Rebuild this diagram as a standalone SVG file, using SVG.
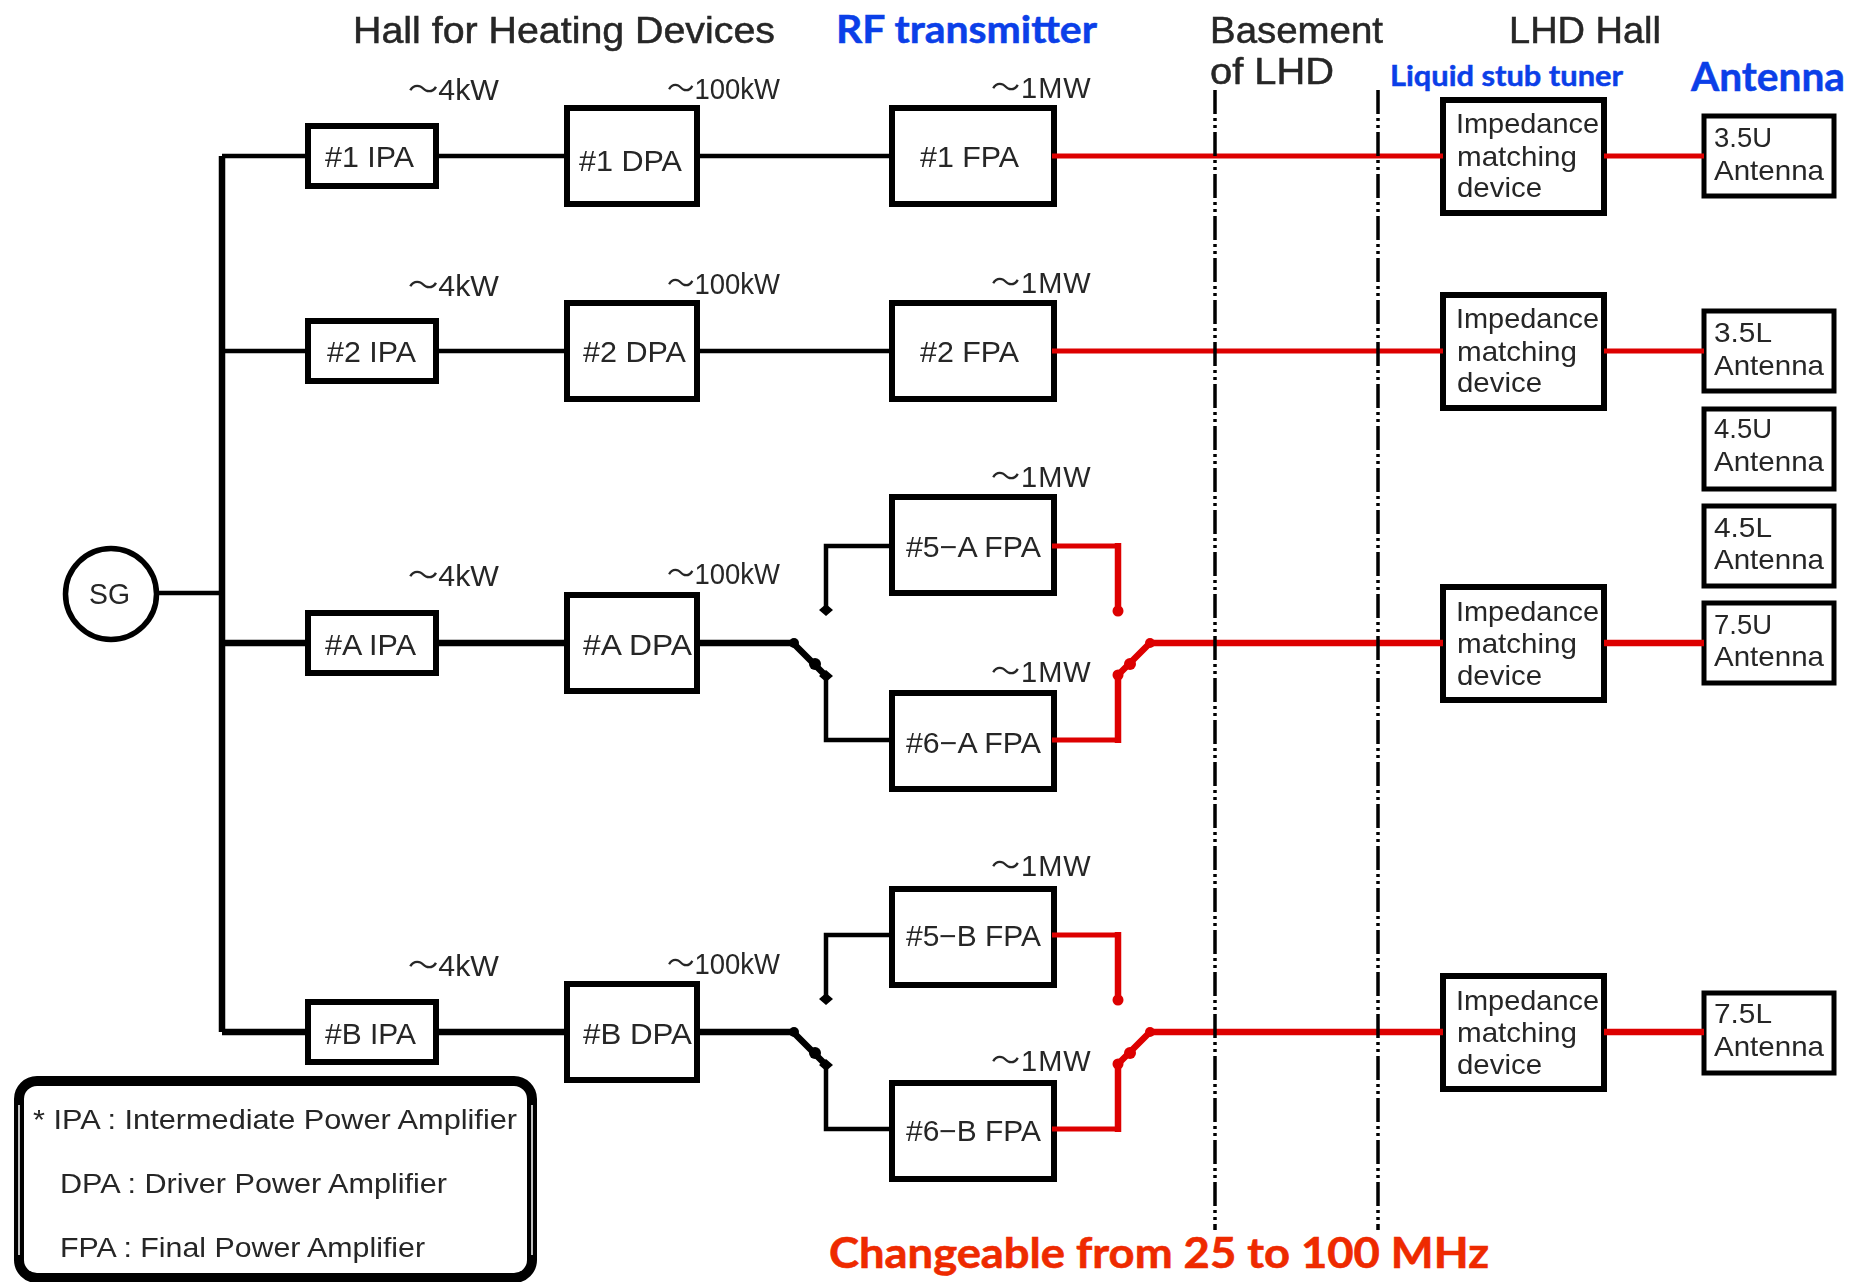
<svg xmlns="http://www.w3.org/2000/svg" width="1854" height="1282" viewBox="0 0 1854 1282">
<style>
text{font-family:"Liberation Sans","Noto Sans CJK JP",sans-serif;fill:#262626;filter:url(#soft)}
.h{font-size:36px;stroke:#262626;stroke-width:.5px}.p{font-size:29px}.s{font-size:28px}
.b{font-family:Lato,"Open Sans",sans-serif;font-weight:700;fill:#0b3fe8;stroke:#0b3fe8;stroke-width:.5px;filter:none}
.c{font-family:Lato,"Open Sans",sans-serif;font-weight:700;fill:#ee2a00;stroke:#ee2a00;stroke-width:.6px;filter:none}
.n text{transform:translateY(-1.5px)}
.box{fill:#fff;stroke:#000;stroke-width:6}
.tbox{fill:#fff;stroke:#000;stroke-width:5}
.k,.r,.K,.R{fill:none;stroke-linejoin:miter}
.k{stroke:#000;stroke-width:4.5}.K{stroke:#000;stroke-width:6.5}
.r{stroke:#dd0000;stroke-width:5}.R{stroke:#dd0000;stroke-width:6.5}
.dd{stroke:#000;stroke-width:3.5;stroke-dasharray:24 4 3 4 3 4;fill:none}
</style>
<defs><filter id="soft" x="-5%" y="-20%" width="110%" height="140%"><feGaussianBlur stdDeviation="0.45"/></filter></defs>
<rect width="1854" height="1282" fill="#fff"/>
<g id="headings">
<text class="h" x="353" y="42.5" textLength="422" lengthAdjust="spacingAndGlyphs">Hall for Heating Devices</text>
<text class="h" x="1210" y="42.5" textLength="173" lengthAdjust="spacingAndGlyphs">Basement</text>
<text class="h" x="1210" y="83.5" textLength="124" lengthAdjust="spacingAndGlyphs">of LHD</text>
<text class="h" x="1509" y="42.5" textLength="152" lengthAdjust="spacingAndGlyphs">LHD Hall</text>
<text class="b" font-size="38" x="836" y="43" textLength="261" lengthAdjust="spacingAndGlyphs">RF transmitter</text>
<text class="b" font-size="29" x="1390" y="86" textLength="233" lengthAdjust="spacingAndGlyphs">Liquid stub tuner</text>
<text class="b" font-size="40" x="1691" y="91" textLength="154" lengthAdjust="spacingAndGlyphs">Antenna</text>
<text class="c" font-size="42" x="829" y="1268" textLength="660" lengthAdjust="spacingAndGlyphs">Changeable from 25 to 100 MHz</text>
</g>
<g id="power-labels">
<g class="p">
<text x="408" y="100" textLength="91" lengthAdjust="spacingAndGlyphs">～4kW</text>
<text x="408" y="296" textLength="91" lengthAdjust="spacingAndGlyphs">～4kW</text>
<text x="408" y="586" textLength="91" lengthAdjust="spacingAndGlyphs">～4kW</text>
<text x="408" y="976" textLength="91" lengthAdjust="spacingAndGlyphs">～4kW</text>
<text x="667" y="99" textLength="113" lengthAdjust="spacingAndGlyphs">～100kW</text>
<text x="667" y="294" textLength="113" lengthAdjust="spacingAndGlyphs">～100kW</text>
<text x="667" y="584" textLength="113" lengthAdjust="spacingAndGlyphs">～100kW</text>
<text x="667" y="974" textLength="113" lengthAdjust="spacingAndGlyphs">～100kW</text>
<g style="letter-spacing:1px">
<text x="991" y="98">～1MW</text>
<text x="991" y="293">～1MW</text>
<text x="991" y="487">～1MW</text>
<text x="991" y="682">～1MW</text>
<text x="991" y="876">～1MW</text>
<text x="991" y="1071">～1MW</text>
</g>
</g>
</g>
<g id="sg"><circle cx="111" cy="594" r="45.5" fill="#fff" stroke="#000" stroke-width="5.5"/><text class="p" x="89" y="604" textLength="41" lengthAdjust="spacingAndGlyphs">SG</text></g>
<g id="ipa-1" class="n"><rect class="box" x="308" y="126" width="128" height="60"/><text class="p" x="325" y="168" textLength="89" lengthAdjust="spacingAndGlyphs">#1 IPA</text></g>
<g id="ipa-2" class="n"><rect class="box" x="308" y="321" width="128" height="60"/><text class="p" x="327" y="363" textLength="89" lengthAdjust="spacingAndGlyphs">#2 IPA</text></g>
<g id="ipa-a" class="n"><rect class="box" x="308" y="613" width="128" height="60"/><text class="p" x="325" y="656" textLength="91" lengthAdjust="spacingAndGlyphs">#A IPA</text></g>
<g id="ipa-b" class="n"><rect class="box" x="308" y="1002" width="128" height="60"/><text class="p" x="325" y="1045" textLength="91" lengthAdjust="spacingAndGlyphs">#B IPA</text></g>
<g id="dpa-1" class="n"><rect class="box" x="567" y="108" width="130" height="96"/><text class="p" x="579" y="172" textLength="103" lengthAdjust="spacingAndGlyphs">#1 DPA</text></g>
<g id="dpa-2" class="n"><rect class="box" x="567" y="303" width="130" height="96"/><text class="p" x="583" y="363" textLength="103" lengthAdjust="spacingAndGlyphs">#2 DPA</text></g>
<g id="dpa-a" class="n"><rect class="box" x="567" y="595" width="130" height="96"/><text class="p" x="583" y="656" textLength="109" lengthAdjust="spacingAndGlyphs">#A DPA</text></g>
<g id="dpa-b" class="n"><rect class="box" x="567" y="984" width="130" height="96"/><text class="p" x="583" y="1045" textLength="109" lengthAdjust="spacingAndGlyphs">#B DPA</text></g>
<g id="fpa-1" class="n"><rect class="box" x="892" y="108" width="162" height="96"/><text class="p" x="920" y="168" textLength="99" lengthAdjust="spacingAndGlyphs">#1 FPA</text></g>
<g id="fpa-2" class="n"><rect class="box" x="892" y="303" width="162" height="96"/><text class="p" x="920" y="363" textLength="99" lengthAdjust="spacingAndGlyphs">#2 FPA</text></g>
<g id="fpa-5a" class="n"><rect class="box" x="892" y="497" width="162" height="96"/><text class="p" x="906" y="558" textLength="135" lengthAdjust="spacingAndGlyphs">#5−A FPA</text></g>
<g id="fpa-6a" class="n"><rect class="box" x="892" y="693" width="162" height="96"/><text class="p" x="906" y="754" textLength="135" lengthAdjust="spacingAndGlyphs">#6−A FPA</text></g>
<g id="fpa-5b" class="n"><rect class="box" x="892" y="889" width="162" height="96"/><text class="p" x="906" y="947" textLength="135" lengthAdjust="spacingAndGlyphs">#5−B FPA</text></g>
<g id="fpa-6b" class="n"><rect class="box" x="892" y="1083" width="162" height="96"/><text class="p" x="906" y="1142" textLength="135" lengthAdjust="spacingAndGlyphs">#6−B FPA</text></g>
<g id="imp-1" class="n"><rect class="box" x="1443" y="100" width="161" height="113"/><g class="s"><text x="1456" y="134" textLength="143" lengthAdjust="spacingAndGlyphs">Impedance</text><text x="1457" y="167" textLength="120" lengthAdjust="spacingAndGlyphs">matching</text><text x="1457" y="198" textLength="85" lengthAdjust="spacingAndGlyphs">device</text></g></g>
<g id="imp-2" class="n"><rect class="box" x="1443" y="295" width="161" height="113"/><g class="s"><text x="1456" y="329" textLength="143" lengthAdjust="spacingAndGlyphs">Impedance</text><text x="1457" y="362" textLength="120" lengthAdjust="spacingAndGlyphs">matching</text><text x="1457" y="393" textLength="85" lengthAdjust="spacingAndGlyphs">device</text></g></g>
<g id="imp-a" class="n"><rect class="box" x="1443" y="587" width="161" height="113"/><g class="s"><text x="1456" y="622" textLength="143" lengthAdjust="spacingAndGlyphs">Impedance</text><text x="1457" y="654" textLength="120" lengthAdjust="spacingAndGlyphs">matching</text><text x="1457" y="686" textLength="85" lengthAdjust="spacingAndGlyphs">device</text></g></g>
<g id="imp-b" class="n"><rect class="box" x="1443" y="976" width="161" height="113"/><g class="s"><text x="1456" y="1011" textLength="143" lengthAdjust="spacingAndGlyphs">Impedance</text><text x="1457" y="1043" textLength="120" lengthAdjust="spacingAndGlyphs">matching</text><text x="1457" y="1075" textLength="85" lengthAdjust="spacingAndGlyphs">device</text></g></g>
<g id="ant-35u" class="n"><rect class="tbox" x="1704" y="116" width="130" height="80"/><g class="s"><text x="1714" y="148" textLength="58" lengthAdjust="spacingAndGlyphs">3.5U</text><text x="1714" y="181" textLength="110" lengthAdjust="spacingAndGlyphs">Antenna</text></g></g>
<g id="ant-35l" class="n"><rect class="tbox" x="1704" y="311" width="130" height="80"/><g class="s"><text x="1714" y="343" textLength="58" lengthAdjust="spacingAndGlyphs">3.5L</text><text x="1714" y="376" textLength="110" lengthAdjust="spacingAndGlyphs">Antenna</text></g></g>
<g id="ant-45u" class="n"><rect class="tbox" x="1704" y="409" width="130" height="80"/><g class="s"><text x="1714" y="439" textLength="58" lengthAdjust="spacingAndGlyphs">4.5U</text><text x="1714" y="472" textLength="110" lengthAdjust="spacingAndGlyphs">Antenna</text></g></g>
<g id="ant-45l" class="n"><rect class="tbox" x="1704" y="506" width="130" height="80"/><g class="s"><text x="1714" y="538" textLength="58" lengthAdjust="spacingAndGlyphs">4.5L</text><text x="1714" y="570" textLength="110" lengthAdjust="spacingAndGlyphs">Antenna</text></g></g>
<g id="ant-75u" class="n"><rect class="tbox" x="1704" y="603" width="130" height="80"/><g class="s"><text x="1714" y="635" textLength="58" lengthAdjust="spacingAndGlyphs">7.5U</text><text x="1714" y="667" textLength="110" lengthAdjust="spacingAndGlyphs">Antenna</text></g></g>
<g id="ant-75l" class="n"><rect class="tbox" x="1704" y="993" width="130" height="80"/><g class="s"><text x="1714" y="1024" textLength="58" lengthAdjust="spacingAndGlyphs">7.5L</text><text x="1714" y="1057" textLength="110" lengthAdjust="spacingAndGlyphs">Antenna</text></g></g>
<g id="connectors">
<path class="K" d="M222 156V1032"/>
<path class="k" d="M157 593H222"/>
<path class="k" d="M222 156H308M436 156H567M697 156H892"/>
<path class="k" d="M222 351H308M436 351H567M697 351H892"/>
<path class="K" d="M222 643H308M436 643H567M697 643H793L826 676"/>
<path class="K" d="M222 1032H308M436 1032H567M697 1032H793L826 1065"/>
<path class="k" d="M892 546H826V610"/><path class="k" d="M826 676V740H892"/>
<path class="k" d="M892 935H826V999"/><path class="k" d="M826 1065V1129H892"/>
<path class="r" d="M1052 156H1443M1604 156H1704"/><path class="r" d="M1052 351H1443M1604 351H1704"/>
<path class="r" d="M1052 546H1118"/><path class="R" d="M1118 543V611"/>
<path class="r" d="M1052 740H1118"/><path class="R" d="M1118 743V675L1150 643H1443M1604 643H1704"/>
<path class="r" d="M1052 935H1118"/><path class="R" d="M1118 932V1000"/>
<path class="r" d="M1052 1129H1118"/><path class="R" d="M1118 1132V1064L1150 1032H1443M1604 1032H1704"/>
<g fill="#000">
<circle cx="794" cy="643" r="5"/><circle cx="794" cy="1032" r="5"/>
<path d="M826 604l7 6-7 6-7-6zM826 670l7 6-7 6-7-6zM826 993l7 6-7 6-7-6zM826 1059l7 6-7 6-7-6z"/>
<circle cx="815" cy="664" r="6"/><circle cx="815" cy="1053" r="6"/>
</g>
<g fill="#dd0000">
<circle cx="1118" cy="611" r="5.5"/><circle cx="1118" cy="675" r="5.5"/><circle cx="1130" cy="664" r="6"/><circle cx="1150" cy="643" r="5"/>
<circle cx="1118" cy="1000" r="5.5"/><circle cx="1118" cy="1064" r="5.5"/><circle cx="1130" cy="1053" r="6"/><circle cx="1150" cy="1032" r="5"/>
</g>
<path class="dd" d="M1215 90V1230"/><path class="dd" d="M1378 90V1230"/>
</g>
<g id="legend">
<rect x="19" y="1081" width="513" height="197" rx="18" fill="#fff" stroke="#000" stroke-width="10"/>
<path d="M19 1105V1255M532 1105V1255" stroke="#fff" stroke-width="1.5"/>
<text class="s" x="33" y="1129" textLength="484" lengthAdjust="spacingAndGlyphs">* IPA : Intermediate Power Amplifier</text>
<text class="s" x="60" y="1193" textLength="387" lengthAdjust="spacingAndGlyphs">DPA : Driver Power Amplifier</text>
<text class="s" x="60" y="1257" textLength="365" lengthAdjust="spacingAndGlyphs">FPA : Final Power Amplifier</text>
</g>
</svg>
